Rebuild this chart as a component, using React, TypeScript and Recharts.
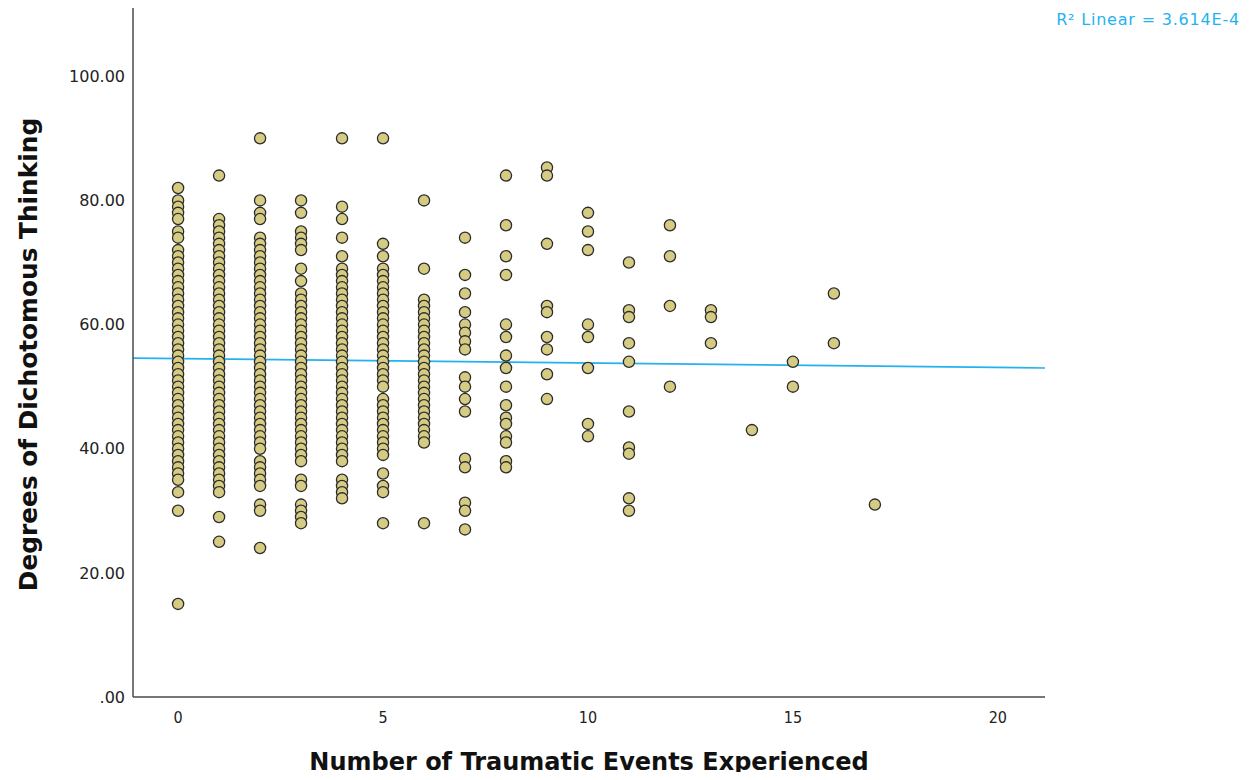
import React from 'react';
import { ScatterChart, Scatter, XAxis, YAxis, ReferenceLine, Label } from 'recharts';

// Number of traumatic events (x categories)
const eventCounts = [0, 1, 2, 3, 4, 5, 6, 7, 8, 9, 10, 11, 12, 13, 14, 15, 16, 17];

// Degrees of dichotomous thinking per number of events
const scores0 = [82, 80, 79, 78, 77, 75, 74, 72, 71, 70, 69, 68, 67, 66, 65, 64, 63, 62, 61, 60, 59, 58, 57, 56, 55, 54, 53, 52, 51, 50, 49, 48, 47, 46, 45, 44, 43, 42, 41, 40, 39, 38, 37, 36, 35, 33, 30, 15];
const scores1 = [84, 77, 76, 75, 74, 73, 72, 71, 70, 69, 68, 67, 66, 65, 64, 63, 62, 61, 60, 59, 58, 57, 56, 55, 54, 53, 52, 51, 50, 49, 48, 47, 46, 45, 44, 43, 42, 41, 40, 39, 38, 37, 36, 35, 34, 33, 29, 25];
const scores2 = [90, 80, 78, 77, 74, 73, 72, 71, 70, 69, 68, 67, 66, 65, 64, 63, 62, 61, 60, 59, 58, 57, 56, 55, 54, 53, 52, 51, 50, 49, 48, 47, 46, 45, 44, 43, 42, 41, 40, 38, 37, 36, 35, 34, 31, 30, 24];
const scores3 = [80, 78, 75, 74, 73, 72, 69, 67, 65, 64, 63, 62, 61, 60, 59, 58, 57, 56, 55, 54, 53, 52, 51, 50, 49, 48, 47, 46, 45, 44, 43, 42, 41, 40, 39, 38, 35, 34, 31, 30, 29, 28];
const scores4 = [90, 79, 77, 74, 71, 69, 68, 67, 66, 65, 64, 63, 62, 61, 60, 59, 58, 57, 56, 55, 54, 53, 52, 51, 50, 49, 48, 47, 46, 45, 44, 43, 42, 41, 40, 39, 38, 35, 34, 33, 32];
const scores5 = [90, 73, 71, 69, 68, 67, 66, 65, 64, 63, 62, 61, 60, 59, 58, 57, 56, 55, 54, 53, 52, 51, 50, 48, 47, 46, 45, 44, 43, 42, 41, 40, 39, 36, 34, 33, 28];
const scores6 = [80, 69, 64, 63, 62, 61, 60, 59, 58, 57, 56, 55, 54, 53, 52, 51, 50, 49, 48, 47, 46, 45, 44, 43, 42, 41, 28];
const scores7 = [74, 68, 65, 62, 60, 58.7, 57.3, 56, 51.5, 50, 48, 46, 38.4, 37, 31.3, 30, 27];
const scores8 = [84, 76, 71, 68, 60, 58, 55, 53, 50, 47, 45, 44, 42, 41, 38, 37];
const scores9 = [85.3, 84, 73, 63, 62, 58, 56, 52, 48];
const scores10 = [78, 75, 72, 60, 58, 53, 44, 42];
const scores11 = [70, 62.3, 61.2, 57, 54, 46, 40.2, 39.2, 32, 30];
const scores12 = [76, 71, 63, 50];
const scores13 = [62.3, 61.2, 57];
const scores14 = [43];
const scores15 = [54, 50];
const scores16 = [65, 57];
const scores17 = [31];

const scoresByCount = [
  scores0, scores1, scores2, scores3, scores4, scores5, scores6, scores7, scores8,
  scores9, scores10, scores11, scores12, scores13, scores14, scores15, scores16, scores17,
];

// Linear fit line end points
const fitStart = { x: -1.1, y: 54.6 };
const fitEnd = { x: 21.15, y: 53.0 };
const r2Text = 'R\u00B2 Linear = 3.614E-4';

const xTicks = [0, 5, 10, 15, 20];
const yTicks = [0, 20, 40, 60, 80, 100];

const points = eventCounts.flatMap((c, i) => scoresByCount[i].map((s) => ({ x: c, y: s })));

const Dot = (props: any) => {
  const { cx, cy } = props;
  if (cx == null || cy == null) return null;
  return <circle cx={cx} cy={cy} r={5.6} fill="#d5cb83" stroke="#2b2b2b" strokeWidth={1.3} />;
};

const fmtY = (v: number) => (v === 0 ? '.00' : v.toFixed(2));

export default function App() {
  return (
    <div style={{ position: 'relative', width: 1235, height: 764, overflow: 'visible' }}>
      <ScatterChart width={1235} height={772} margin={{ top: 0, right: 198, bottom: 8, left: 45 }}>
        <XAxis
          type="number"
          dataKey="x"
          domain={[-1.1, 21.15]}
          ticks={xTicks}
          allowDataOverflow
          tickLine={false}
          tickMargin={9}
          height={75}
          axisLine={{ stroke: '#4a4a4a', strokeWidth: 1.5 }}
          tick={{ fill: '#222', fontSize: 16, fontFamily: "'DejaVu Sans Condensed', 'DejaVu Sans', sans-serif" }}
        >
          <Label
            content={(p: any) => {
              const vb = p.viewBox;
              return (
                <text
                  x={vb.x + vb.width / 2}
                  y={762}
                  textAnchor="middle"
                  fontSize={24}
                  fontWeight="bold"
                  fill="#111"
                  fontFamily="'DejaVu Sans', sans-serif"
                >
                  Number of Traumatic Events Experienced
                </text>
              );
            }}
          />
        </XAxis>
        <YAxis
          type="number"
          dataKey="y"
          domain={[0, 111]}
          ticks={yTicks}
          allowDataOverflow
          tickLine={false}
          tickFormatter={fmtY}
          width={80}
          axisLine={{ stroke: '#4a4a4a', strokeWidth: 1.5 }}
          tick={{ fill: '#222', fontSize: 16, fontFamily: "'DejaVu Sans', sans-serif" }}
        >
          <Label
            content={(p: any) => {
              const vb = p.viewBox;
              const cx = 20;
              const cy = vb.y + vb.height / 2 + 2;
              return (
                <text
                  x={cx}
                  y={cy}
                  transform={`rotate(-90, ${cx}, ${cy})`}
                  textAnchor="middle"
                  dominantBaseline="central"
                  fontSize={24.8}
                  fontWeight="bold"
                  fill="#111"
                  fontFamily="'DejaVu Sans', sans-serif"
                >
                  Degrees of Dichotomous Thinking
                </text>
              );
            }}
          />
        </YAxis>
        <Scatter data={points} shape={<Dot />} isAnimationActive={false} />
        <ReferenceLine
          segment={[fitStart, fitEnd]}
          stroke="#22b2ee"
          strokeWidth={1.7}
          ifOverflow="visible"
        />
      </ScatterChart>
      <div
        style={{
          position: 'absolute',
          right: 3,
          top: 2,
          color: '#23b3f0',
          fontSize: 16,
          letterSpacing: 0.8,
          fontFamily: "'DejaVu Sans', sans-serif",
          whiteSpace: 'nowrap',
        }}
      >
        {r2Text}
      </div>
    </div>
  );
}
